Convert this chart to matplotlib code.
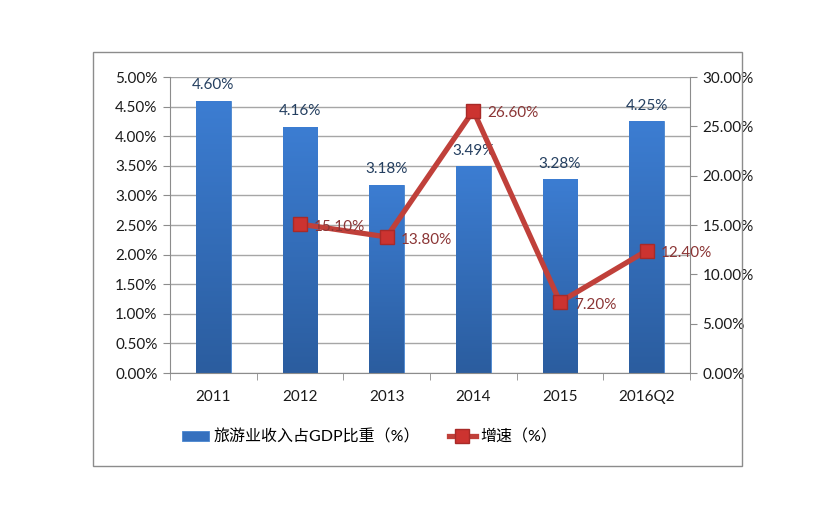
import matplotlib
matplotlib.use('Agg')
import matplotlib.pyplot as plt
import numpy as np
from matplotlib.colors import LinearSegmentedColormap
from matplotlib.patches import Rectangle
from matplotlib.ticker import FuncFormatter, MultipleLocator

plt.rcParams['font.family'] = ['Lato', 'Noto Sans CJK SC', 'DejaVu Sans']

years = ['2011', '2012', '2013', '2014', '2015', '2016Q2']
share = [4.60, 4.16, 3.18, 3.49, 3.28, 4.25]
growth = [np.nan, 15.10, 13.80, 26.60, 7.20, 12.40]
bar_name = '旅游业收入占GDP比重（%）'
line_name = '增速（%）'

fig = plt.figure(figsize=(8.4, 5.21), dpi=100)
fig.patch.set_facecolor('white')

# 外框
fig.patches.append(Rectangle((0.1107, 0.1056), 0.7726, 0.7944, transform=fig.transFigure,
                             fill=False, edgecolor='#8c8c8c', lw=1.0))

ax = fig.add_axes([0.2024, 0.284, 0.619, 0.568])
x = np.arange(len(years))

bars = ax.bar(x, share, width=0.4, color='#3570be', edgecolor='#4a86d0', lw=0.6,
              zorder=2, label=bar_name)

# 柱子渐变填充
grad = LinearSegmentedColormap.from_list('g', ['#2b5d9f', '#3c7dd2'])
for b in bars:
    bx, by = b.get_x(), b.get_y()
    bw, bh = b.get_width(), b.get_height()
    im = ax.imshow(np.linspace(0, 1, 100).reshape(-1, 1), cmap=grad, origin='lower',
                   extent=[bx, bx + bw, by, by + bh], aspect='auto', zorder=2.1)
    im.set_clip_path(b)

for xi, v in zip(x, share):
    ax.annotate(f'{v:.2f}%', (xi, v), xytext=(0, 6), textcoords='offset points',
                ha='center', va='bottom', fontsize=11, color='#243f60', zorder=5)

ax.set_xlim(-0.5, len(years) - 0.5)
ax.set_ylim(0, 5)
ax.yaxis.set_major_locator(MultipleLocator(0.5))
ax.yaxis.set_major_formatter(FuncFormatter(lambda v, p: f'{v:.2f}%'))
ax.grid(axis='y', color='#a6a6a6', lw=1.0, zorder=0)
ax.set_axisbelow(True)
ax.set_xticks(x)
ax.set_xticklabels(years)
ax.set_xticks(np.arange(-0.5, len(years)), minor=True)
ax.tick_params(axis='x', which='major', length=0, pad=12, labelsize=11, labelcolor='#1a1a1a')
ax.tick_params(axis='x', which='minor', length=5, color='#8c8c8c', direction='out')
ax.tick_params(axis='y', length=5, color='#8c8c8c', labelsize=11, labelcolor='#1a1a1a', pad=4)
for s in ['top', 'right']:
    ax.spines[s].set_visible(False)
for s in ['left', 'bottom']:
    ax.spines[s].set_color('#8c8c8c')

ax2 = ax.twinx()
ax2.set_ylim(0, 30)
ax2.yaxis.set_major_locator(MultipleLocator(5))
ax2.yaxis.set_major_formatter(FuncFormatter(lambda v, p: f'{v:.2f}%'))
ax2.tick_params(axis='y', length=5, color='#8c8c8c', labelsize=11, labelcolor='#1a1a1a', pad=4)
for s in ['top', 'left', 'bottom']:
    ax2.spines[s].set_visible(False)
ax2.spines['right'].set_color('#8c8c8c')

ax2.plot(x, growth, color='#c0403a', lw=3.8, marker='s', markersize=10.5,
         markerfacecolor='#cc3330', markeredgecolor='#a82a28', markeredgewidth=1,
         zorder=3, label=line_name)
for xi, v in zip(x, growth):
    if np.isnan(v):
        continue
    ax2.annotate(f'{v:.2f}%', (xi, v), xytext=(10, -2), textcoords='offset points',
                 ha='left', va='center', fontsize=11, color='#8b3535', zorder=5)

fig.legend([bars, ax2.lines[0]], [bar_name, line_name], loc='center',
           bbox_to_anchor=(0.44, 0.161), ncol=2, frameon=False, fontsize=11.5,
           columnspacing=1.8, handlelength=1.7, handleheight=0.6, handletextpad=0.3)

fig.savefig('out.png', dpi=100, facecolor='white')
